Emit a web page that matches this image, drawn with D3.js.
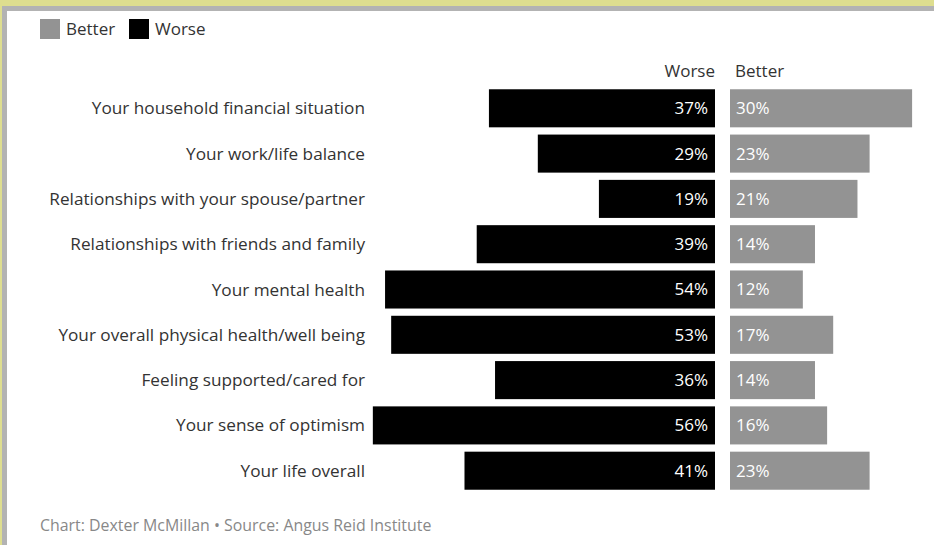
<!DOCTYPE html>
<html><head><meta charset="utf-8">
<script src="https://cdn.jsdelivr.net/npm/d3@7"></script>
<style>
html,body{margin:0;padding:0;background:#fff;}
svg{display:block;font-family:"Open Sans",sans-serif;}
</style></head>
<body>
<svg id="c" width="934" height="545"></svg>
<script>
const categories = [
  "Your household financial situation",
  "Your work/life balance",
  "Relationships with your spouse/partner",
  "Relationships with friends and family",
  "Your mental health",
  "Your overall physical health/well being",
  "Feeling supported/cared for",
  "Your sense of optimism",
  "Your life overall"
];
const worse = [37, 29, 19, 39, 54, 53, 36, 56, 41];
const better = [30, 23, 21, 14, 12, 17, 14, 16, 23];
const seriesNames = ["Better", "Worse"];
const colors = {Better: "#939393", Worse: "#000000"};

const svg = d3.select("#c");
// frame
svg.append("rect").attr("x",0).attr("y",0).attr("width",934).attr("height",545).attr("fill","#dede8f");
svg.append("rect").attr("x",2).attr("y",6).attr("width",932).attr("height",539).attr("fill","#b3b3b3");
svg.append("rect").attr("x",7).attr("y",11).attr("width",927).attr("height",534).attr("fill","#ffffff");

const y = d3.scaleBand().domain(categories).range([87, 492]).paddingInner(0.16).paddingOuter(0.05);
const xW = d3.scaleLinear().domain([0, 100]).range([715, 715 - 611]);
const xB = d3.scaleLinear().domain([0, 100]).range([730, 730 + 607]);

// legend
const leg = svg.append("g");
const legX = [40, 129];
seriesNames.forEach((s, i) => {
  leg.append("rect").attr("x", legX[i]).attr("y", 19).attr("width", 20).attr("height", 20).attr("fill", colors[s]);
  leg.append("text").attr("x", legX[i] + 26).attr("y", 35).attr("font-size", 17).attr("fill", "#333").text(s);
});

// column headers
svg.append("text").attr("x", 715).attr("y", 77).attr("text-anchor", "end").attr("font-size", 17).attr("fill", "#333").text("Worse");
svg.append("text").attr("x", 735).attr("y", 77).attr("font-size", 17).attr("fill", "#333").text("Better");

const rows = svg.append("g").selectAll("g").data(categories).join("g");
rows.append("text").attr("x", 365).attr("y", c => y(c) + y.bandwidth() / 2).attr("dy", "0.35em")
  .attr("text-anchor", "end").attr("font-size", 17.2).attr("fill", "#333").text(c => c);
rows.append("rect").attr("x", (c, i) => xW(worse[i])).attr("y", c => y(c))
  .attr("width", (c, i) => xW(0) - xW(worse[i])).attr("height", y.bandwidth()).attr("fill", colors.Worse);
rows.append("rect").attr("x", xB(0)).attr("y", c => y(c))
  .attr("width", (c, i) => xB(better[i]) - xB(0)).attr("height", y.bandwidth()).attr("fill", colors.Better);
rows.append("text").attr("x", xW(0) - 7).attr("y", c => y(c) + y.bandwidth() / 2).attr("dy", "0.35em")
  .attr("text-anchor", "end").attr("font-size", 17).attr("fill", "#fff").text((c, i) => worse[i] + "%");
rows.append("text").attr("x", xB(0) + 6).attr("y", c => y(c) + y.bandwidth() / 2).attr("dy", "0.35em")
  .attr("font-size", 17).attr("fill", "#fff").text((c, i) => better[i] + "%");

svg.append("text").attr("x", 40).attr("y", 531).attr("font-size", 15.9).attr("fill", "#888")
  .text("Chart: Dexter McMillan • Source: Angus Reid Institute");
</script>
</body></html>
